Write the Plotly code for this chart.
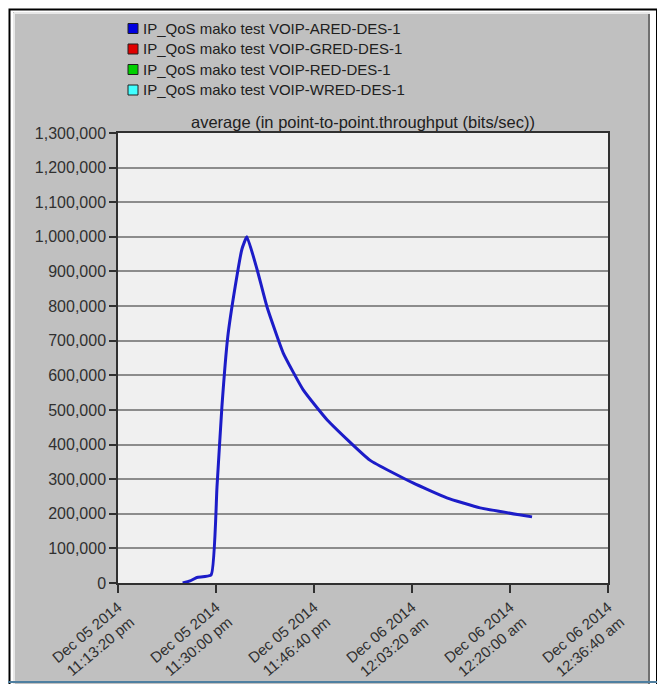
import plotly.graph_objects as go

# ---- data ----
series_names = [
    "IP_QoS mako test VOIP-ARED-DES-1",
    "IP_QoS mako test VOIP-GRED-DES-1",
    "IP_QoS mako test VOIP-RED-DES-1",
    "IP_QoS mako test VOIP-WRED-DES-1",
]
series_colors = ["#0000e0", "#e00000", "#00d000", "#40ffff"]

ared_times = [
    "2014-12-05 23:24:20", "2014-12-05 23:25:35", "2014-12-05 23:26:45",
    "2014-12-05 23:29:10", "2014-12-05 23:30:10", "2014-12-05 23:31:00",
    "2014-12-05 23:32:00", "2014-12-05 23:33:15", "2014-12-05 23:34:25",
    "2014-12-05 23:35:15", "2014-12-05 23:37:00",
    "2014-12-05 23:38:40", "2014-12-05 23:41:25", "2014-12-05 23:44:50",
    "2014-12-05 23:48:55", "2014-12-05 23:56:10", "2014-12-06 00:03:30",
    "2014-12-06 00:09:15", "2014-12-06 00:14:55", "2014-12-06 00:23:45",
]
ared_values = [
    0, 6000, 16000,
    23000, 277000, 508000,
    711000, 855000, 965000,
    1000000, 905000,
    798000, 665000, 558000,
    471000, 355000, 289000,
    246000, 217000, 191000,
]

x_tick_vals = [
    "2014-12-05 23:13:20", "2014-12-05 23:30:00", "2014-12-05 23:46:40",
    "2014-12-06 00:03:20", "2014-12-06 00:20:00", "2014-12-06 00:36:40",
]
x_tick_text = [
    "Dec 05 2014<br>11:13:20 pm", "Dec 05 2014<br>11:30:00 pm", "Dec 05 2014<br>11:46:40 pm",
    "Dec 06 2014<br>12:03:20 am", "Dec 06 2014<br>12:20:00 am", "Dec 06 2014<br>12:36:40 am",
]
chart_title = "average (in point-to-point.throughput (bits/sec))"

# ---- layout geometry ----
# page body has an 8px margin, so the figure is placed at (8, 8) in the window
OFF = 8
W, H = 665 - OFF, 684 - OFF
# plot area in window pixels
L, R, T, B = 118, 608, 133, 583
PW, PH = R - L, B - T


def px(x):
    return (x - L) / PW


def py(y):
    return (B - y) / PH


FONT = "Liberation Sans, Arial, sans-serif"
fig = go.Figure()

fig.add_trace(go.Scatter(
    x=ared_times, y=ared_values, mode="lines",
    line=dict(color="#1c1cc8", width=3, shape="spline", smoothing=0.4),
    showlegend=False, hoverinfo="x+y",
))

shapes = [
    # outer black frame
    dict(type="rect", xref="paper", yref="paper", x0=px(9.5), x1=px(657), y0=py(700), y1=py(9.5),
         fillcolor="#ffffff", line=dict(color="#000000", width=2), layer="below"),
    # gray panel
    dict(type="rect", xref="paper", yref="paper", x0=px(13), x1=px(650), y0=py(700), y1=py(12),
         fillcolor="#c0c0c0", line=dict(width=0), layer="below"),
    # bevel highlights
    dict(type="line", xref="paper", yref="paper", x0=px(14), x1=px(650), y0=py(13), y1=py(13),
         line=dict(color="#e8e8e8", width=2), layer="below"),
    dict(type="line", xref="paper", yref="paper", x0=px(14), x1=px(14), y0=py(13), y1=py(700),
         line=dict(color="#e8e8e8", width=2), layer="below"),
    dict(type="line", xref="paper", yref="paper", x0=px(649), x1=px(649), y0=py(14), y1=py(700),
         line=dict(color="#707070", width=2), layer="below"),
    # plot area background
    dict(type="rect", xref="paper", yref="paper", x0=0, x1=1, y0=0, y1=1,
         fillcolor="#f0f0f0", line=dict(width=0), layer="below"),
    # bottom blue strip
    dict(type="line", xref="paper", yref="paper", x0=px(0), x1=px(665), y0=py(682), y1=py(682),
         line=dict(color="#4f7fa0", width=2), layer="above"),
]

annotations = [dict(
    text=chart_title, xref="paper", yref="paper", x=0.5, y=py(122),
    xanchor="center", yanchor="middle", showarrow=False,
    font=dict(size=16.5, color="#202020", family=FONT),
)]

# legend drawn as swatches + text
legend_rows = [28.5, 49, 69.5, 90]
for name, col, ry in zip(series_names, series_colors, legend_rows):
    shapes.append(dict(type="rect", xref="paper", yref="paper",
                       x0=px(128), x1=px(138), y0=py(ry + 5), y1=py(ry - 5),
                       fillcolor=col, line=dict(color="#202020", width=1), layer="above"))
    annotations.append(dict(
        text=name, xref="paper", yref="paper", x=px(141), y=py(ry),
        xanchor="left", yanchor="middle", showarrow=False,
        font=dict(size=15, color="#202020", family=FONT),
    ))

fig.update_layout(
    width=W, height=H,
    margin=dict(l=L - OFF, r=(W + OFF) - R, t=T - OFF, b=(H + OFF) - B, autoexpand=False),
    paper_bgcolor="#ffffff",
    plot_bgcolor="rgba(0,0,0,0)",
    font=dict(family=FONT, size=16, color="#202020"),
    shapes=shapes,
    showlegend=False,
    annotations=annotations,
    xaxis=dict(
        type="date", automargin=False,
        range=["2014-12-05 23:13:20", "2014-12-06 00:36:40"],
        tickmode="array", tickvals=x_tick_vals, ticktext=x_tick_text,
        tickangle=-40, ticks="outside", ticklen=8, tickcolor="#303030", tickwidth=1.5,
        showline=True, linecolor="#303030", linewidth=1.5, mirror=True,
        showgrid=False, zeroline=False,
        tickfont=dict(size=15, color="#303030", family=FONT),
    ),
    yaxis=dict(
        automargin=False,
        range=[0, 1300000], tickmode="linear", tick0=0, dtick=100000,
        tickformat=",d", ticks="outside", ticklen=7, tickcolor="#303030", tickwidth=1.5,
        showline=True, linecolor="#303030", linewidth=1.5, mirror=True,
        showgrid=True, gridcolor="#8c8c8c", gridwidth=1.5, zeroline=False,
        tickfont=dict(size=16, color="#303030", family=FONT),
    ),
)

fig.write_html("out.html")
